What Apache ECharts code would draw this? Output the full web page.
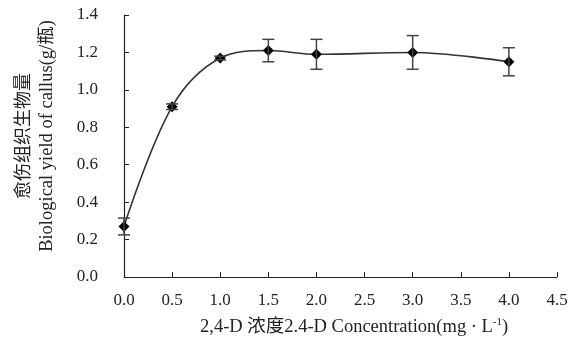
<!DOCTYPE html>
<html><head><meta charset="utf-8">
<script src="https://cdn.jsdelivr.net/npm/echarts@6/dist/echarts.min.js"></script>
<style>html,body{margin:0;padding:0;background:#fff}#c{width:571px;height:345px}</style>
</head><body><div id="c"></div>
<script>
const concentrations = [0, 0.5, 1.0, 1.5, 2.0, 3.0, 4.0];
const yieldMeans = [0.27, 0.91, 1.17, 1.21, 1.19, 1.20, 1.15];
const yieldErrors = [0.045, 0.015, 0.01, 0.06, 0.08, 0.09, 0.075];
const xTicks = [0, 0.5, 1, 1.5, 2, 2.5, 3, 3.5, 4, 4.5];
const yTicks = [0, 0.2, 0.4, 0.6, 0.8, 1.0, 1.2, 1.4];

const font = '"Liberation Serif", "Noto Sans CJK SC", serif';
const chart = echarts.init(document.getElementById('c'));
const lineData = concentrations.map((x, i) => [x, yieldMeans[i]]);
const errData = concentrations.map((x, i) => [x, yieldMeans[i] - yieldErrors[i], yieldMeans[i] + yieldErrors[i]]);

chart.setOption({
  animation: false,
  grid: { left: 124, right: 14, top: 15, bottom: 68 },
  xAxis: {
    type: 'value', min: 0, max: 4.5, interval: 0.5,
    axisLine: { lineStyle: { color: '#222', width: 1.2 } },
    axisTick: { inside: true, length: 5, lineStyle: { color: '#222' } },
    axisLabel: { color: '#222', fontFamily: font, fontSize: 17, margin: 15, formatter: v => v.toFixed(1) },
    splitLine: { show: false }
  },
  yAxis: {
    type: 'value', min: 0, max: 1.4, interval: 0.2,
    axisLine: { show: true, lineStyle: { color: '#222', width: 1.2 } },
    axisTick: { show: true, inside: true, length: 5, lineStyle: { color: '#222' } },
    axisLabel: { color: '#222', fontFamily: font, fontSize: 17, margin: 26, formatter: v => v.toFixed(1) },
    splitLine: { show: false }
  },
  graphic: [
    { type: 'text', left: 200, top: 317, style: {
      rich: { n: { fontFamily: font, fontSize: 18.5, fill: '#222' }, s: { fontFamily: font, fontSize: 11, fill: '#222', verticalAlign: 'top', padding: [0,0,9,0] } },
      text: '{n|2,4-D 浓度2.4-D Concentration(mg · L}{s|-1}{n|)}' } },
    { type: 'text', x: 24, y: 136, rotation: Math.PI / 2, style: {
      text: '愈伤组织生物量', fontFamily: font, fontSize: 18, fill: '#222', align: 'center', verticalAlign: 'middle' } },
    { type: 'text', x: 47, y: 136, rotation: Math.PI / 2, style: {
      text: 'Biological yield of callus(g/瓶)', fontFamily: font, fontSize: 18.5, fill: '#222', align: 'center', verticalAlign: 'middle' } }
  ],
  series: [
    {
      type: 'line', data: lineData, smooth: 0.35,
      symbol: 'diamond', symbolSize: 11,
      lineStyle: { color: '#333', width: 1.6 },
      itemStyle: { color: '#000' }, z: 3
    },
    {
      type: 'custom', data: errData, z: 4,
      renderItem: function (params, api) {
        const x = api.value(0);
        const lo = api.coord([x, api.value(1)]);
        const hi = api.coord([x, api.value(2)]);
        const w = 6;
        const st = { stroke: '#444', lineWidth: 1.5 };
        return { type: 'group', children: [
          { type: 'line', shape: { x1: lo[0], y1: lo[1], x2: hi[0], y2: hi[1] }, style: st },
          { type: 'line', shape: { x1: lo[0] - w, y1: lo[1], x2: lo[0] + w, y2: lo[1] }, style: st },
          { type: 'line', shape: { x1: hi[0] - w, y1: hi[1], x2: hi[0] + w, y2: hi[1] }, style: st }
        ] };
      }
    }
  ]
});
</script></body></html>
